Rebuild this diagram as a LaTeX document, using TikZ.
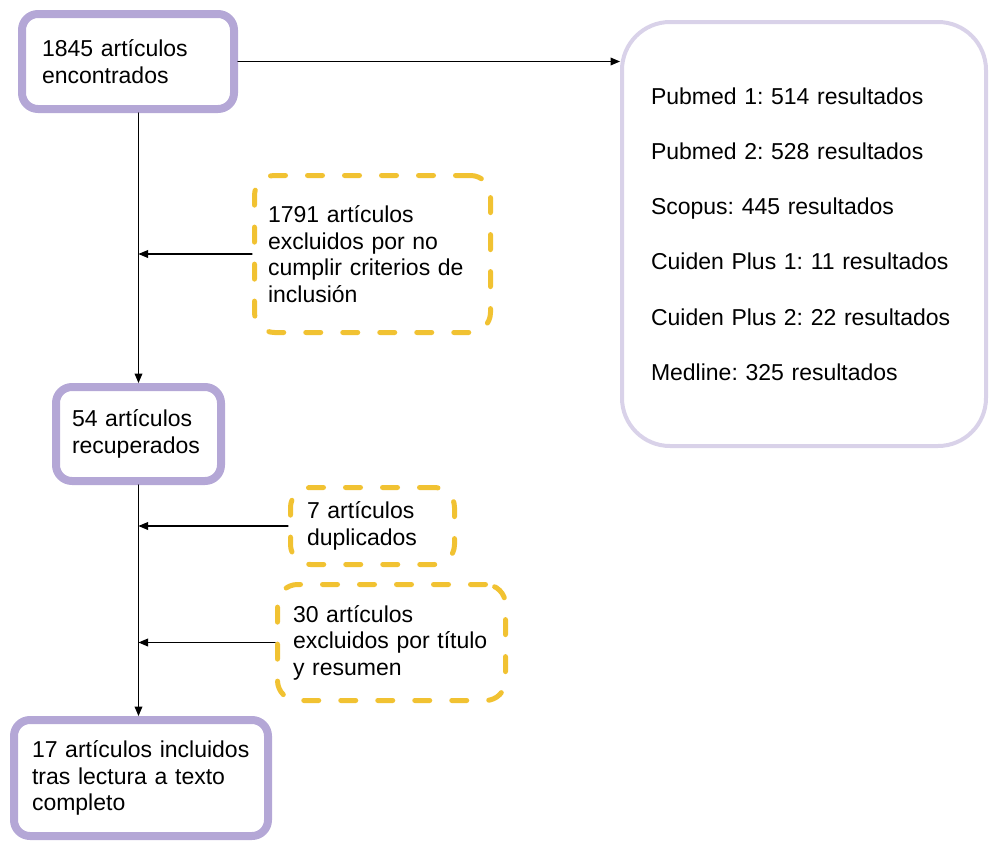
\documentclass[tikz,border=0pt]{standalone}
\usepackage{fontspec}
\setmainfont{Liberation Sans}
\usepackage{tikz}
\usetikzlibrary{arrows}
\definecolor{boxpurple}{HTML}{B4A7D6}
\definecolor{boxyellow}{HTML}{F1C232}
\definecolor{boxlilac}{HTML}{D9D2E9}
\frenchspacing

\begin{document}
\begin{tikzpicture}[line cap=round,line join=round,>=triangle 45,x=1pt,y=-1pt,
  stage/.style={draw=boxpurple,line width=8pt,rounded corners=16pt,align=left,inner ysep=0pt,font=\fontsize{23}{26.5}\selectfont},
  excl/.style={draw=boxyellow,line width=5pt,dash pattern=on 15pt off 22pt,rounded corners=20pt,align=left,inner ysep=0pt,font=\fontsize{23}{26.5}\selectfont},
  flow/.style={->,line width=1.2pt}]
\useasboundingbox (0,0) rectangle (989,846);
% etapas
\node[stage,text width=172pt,inner xsep=20pt,minimum height=95pt] (found) at (128,61.5) {1845 artículos\\encontrados};
\node[stage,text width=133pt,inner xsep=16pt,minimum height=94pt] (recov) at (138.5,434) {54 artículos\\recuperados};
\node[stage,text width=218pt,inner xsep=18pt,minimum height=116pt] (incl) at (141,778) {17 artículos incluidos\\tras lectura a texto\\completo};
% excluidos
\node[excl,text width=209pt,inner xsep=13.5pt,minimum height=157pt] (excl1) at (372.5,254) {1791 artículos\\excluidos por no\\cumplir criterios de\\inclusión};
\node[excl,text width=131pt,inner xsep=16.5pt,minimum height=77pt] (dup) at (372.5,526) {7 artículos\\duplicados};
\node[excl,text width=197pt,inner xsep=15.5pt,minimum height=116pt] (excl2) at (391.5,642.5) {30 artículos\\excluidos por título\\y resumen};
% bases de datos
\node[draw=boxlilac,line width=4pt,rounded corners=48pt,align=left,text width=306pt,inner xsep=29pt,minimum height=424pt,font=\fontsize{23}{55.2}\selectfont] (dbs) at (804,234) {Pubmed 1: 514 resultados\\Pubmed 2: 528 resultados\\Scopus: 445 resultados\\Cuiden Plus 1: 11 resultados\\Cuiden Plus 2: 22 resultados\\Medline: 325 resultados};
% flechas
\draw[flow] (found.east) -- (found.east -| dbs.west);
\draw[flow] (recov.north |- found.south) -- (recov.north);
\draw[flow] (recov.south) -- (recov.south |- incl.north);
\draw[flow] (excl1.west) -- (excl1.west -| recov.north);
\draw[flow] (dup.west) -- (dup.west -| recov.north);
\draw[flow] (excl2.west) -- (excl2.west -| recov.north);
\end{tikzpicture}
\end{document}
